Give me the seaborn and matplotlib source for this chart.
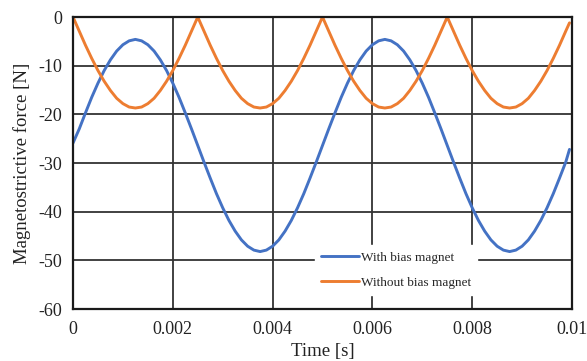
import numpy as np
import pandas as pd
import matplotlib
matplotlib.use("Agg")
import matplotlib.pyplot as plt
import seaborn as sns

# Time samples [s]
time = [round(i * 0.000125, 6) for i in range(80)] + [0.00995]

# With bias magnet
with_bias = [
    -25.9, -23.0, -19.7, -16.5, -13.6, -11.0, -8.8, -7.0, -5.7, -4.9,
    -4.6, -4.9, -5.7, -7.0, -8.8, -11.0, -13.6, -16.5, -19.7, -23.0,
    -26.4, -29.8, -33.1, -36.3, -39.2, -41.8, -44.0, -45.8, -47.1, -47.9,
    -48.2, -47.9, -47.1, -45.8, -44.0, -41.8, -39.2, -36.3, -33.1, -29.8,
    -26.4, -23.0, -19.7, -16.5, -13.6, -11.0, -8.8, -7.0, -5.7, -4.9,
    -4.6, -4.9, -5.7, -7.0, -8.8, -11.0, -13.6, -16.5, -19.7, -23.0,
    -26.4, -29.8, -33.1, -36.3, -39.2, -41.8, -44.0, -45.8, -47.1, -47.9,
    -48.2, -47.9, -47.1, -45.8, -44.0, -41.8, -39.2, -36.3, -33.1, -29.8,
    -27.2,
]

# Without bias magnet
without_bias = [
    0.0, -2.9, -5.8, -8.5, -11.0, -13.2, -15.1, -16.7, -17.8, -18.5,
    -18.7, -18.5, -17.8, -16.7, -15.1, -13.2, -11.0, -8.5, -5.8, -2.9,
    0.0, -2.9, -5.8, -8.5, -11.0, -13.2, -15.1, -16.7, -17.8, -18.5,
    -18.7, -18.5, -17.8, -16.7, -15.1, -13.2, -11.0, -8.5, -5.8, -2.9,
    0.0, -2.9, -5.8, -8.5, -11.0, -13.2, -15.1, -16.7, -17.8, -18.5,
    -18.7, -18.5, -17.8, -16.7, -15.1, -13.2, -11.0, -8.5, -5.8, -2.9,
    0.0, -2.9, -5.8, -8.5, -11.0, -13.2, -15.1, -16.7, -17.8, -18.5,
    -18.7, -18.5, -17.8, -16.7, -15.1, -13.2, -11.0, -8.5, -5.8, -2.9,
    -1.2,
]

series_names = ["With bias magnet", "Without bias magnet"]
colors = ["#4472C4", "#ED7D31"]
xticks = [0, 0.002, 0.004, 0.006, 0.008, 0.01]
xtick_labels = ["0", "0.002", "0.004", "0.006", "0.008", "0.01"]
yticks = [0, -10, -20, -30, -40, -50, -60]

df = pd.DataFrame({
    "Time": time * 2,
    "Force": with_bias + without_bias,
    "Series": [series_names[0]] * len(time) + [series_names[1]] * len(time),
})

sns.set_style("white")
plt.rcParams["font.family"] = ["Liberation Serif", "DejaVu Serif"]

fig = plt.figure(figsize=(5.87, 3.61), dpi=100)
ax = fig.add_axes([73 / 587, 1 - 309 / 361, (572 - 73) / 587, (309 - 17) / 361])

sns.lineplot(data=df, x="Time", y="Force", hue="Series", palette=colors,
             linewidth=2.1, ax=ax, legend=True, sort=False)

ax.set_xlim(0, 0.01)
ax.set_ylim(-60, 0)
ax.set_xticks(xticks)
ax.set_xticklabels(xtick_labels)
ax.set_yticks(yticks)
ax.set_yticklabels([str(v) for v in yticks])
ax.tick_params(axis="both", length=0, labelsize=13, colors="#222222", pad=8)
ax.tick_params(axis="x", pad=9)
ax.grid(True, color="#333333", linewidth=1.3)
ax.set_axisbelow(True)
for s in ax.spines.values():
    s.set_color("#1a1a1a")
    s.set_linewidth(1.6)

ax.set_xlabel("Time [s]", fontsize=13.5, labelpad=3, color="#222222")
ax.set_ylabel("Magnetostrictive force [N]", fontsize=13.5, labelpad=5, color="#222222")

leg = ax.legend(loc="lower left", bbox_to_anchor=(0.485, 0.048), frameon=True,
                fontsize=9.5, handlelength=2.9, handletextpad=0.15,
                labelspacing=1.0, borderpad=0.45, borderaxespad=0)
leg.get_frame().set_facecolor("white")
leg.get_frame().set_edgecolor("white")
leg.get_frame().set_alpha(1.0)
leg.get_frame().set_boxstyle("square", pad=0)

fig.savefig("out.png", dpi=100)
